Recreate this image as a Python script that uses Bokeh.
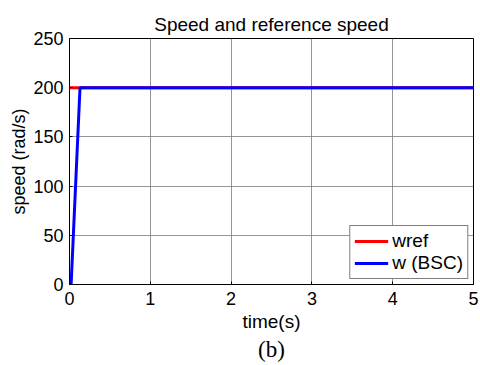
from bokeh.plotting import figure
from bokeh.models import Range1d, FixedTicker, Legend, LegendItem, Title
from bokeh.embed import file_html
from bokeh.resources import INLINE

# data
t_ref = [0, 5]
w_ref = [200, 200]
t_bsc = [0, 0.02, 0.13, 5]
w_bsc = [0, 0, 200, 200]
x_ticks = [0, 1, 2, 3, 4, 5]
y_ticks = [0, 50, 100, 150, 200, 250]

FONT = "Liberation Sans"

p = figure(width=480, height=365, output_backend="svg", toolbar_location=None,
           x_range=Range1d(0, 5), y_range=Range1d(0, 250),
           min_border_left=69, min_border_right=7, min_border_top=38, min_border_bottom=81)

p.title.text = "Speed and reference speed"
p.title.align = "center"
p.title.text_font = FONT
p.title.text_font_size = "19px"
p.title.text_font_style = "normal"
p.title.text_color = "black"
p.title.standoff = 8

r1 = p.line(t_ref, w_ref, line_color="#ff0000", line_width=3)
r2 = p.line(t_bsc, w_bsc, line_color="#0000ff", line_width=3)

for ax in (p.xaxis[0], p.yaxis[0]):
    ax.axis_line_color = "black"
    ax.axis_line_width = 1
    ax.major_tick_in = 3
    ax.major_tick_out = 0
    ax.minor_tick_line_color = None
    ax.major_tick_line_color = "black"
    ax.major_label_text_font = FONT
    ax.major_label_text_font_size = "18px"
    ax.major_label_text_color = "black"
    ax.axis_label_text_font = FONT
    ax.axis_label_text_font_style = "normal"
    ax.axis_label_text_color = "black"

p.xaxis[0].ticker = FixedTicker(ticks=x_ticks)
p.yaxis[0].ticker = FixedTicker(ticks=y_ticks)
p.xaxis[0].axis_label = "time(s)"
p.yaxis[0].axis_label = "speed (rad/s)"
p.xaxis[0].axis_label_text_font_size = "19px"
p.yaxis[0].axis_label_text_font_size = "18px"
p.xaxis[0].major_label_standoff = 7
p.yaxis[0].major_label_standoff = 6
p.xaxis[0].axis_label_standoff = 3
p.yaxis[0].axis_label_standoff = 1

p.xgrid.grid_line_color = "#7a7a7a"
p.ygrid.grid_line_color = "#7a7a7a"
p.xgrid.grid_line_width = 0.8
p.ygrid.grid_line_width = 0.8
p.xgrid.ticker = FixedTicker(ticks=x_ticks)
p.ygrid.ticker = FixedTicker(ticks=y_ticks)

p.outline_line_color = "black"
p.outline_line_width = 1
p.outline_line_alpha = 1

legend = Legend(items=[LegendItem(label="wref", renderers=[r1]),
                       LegendItem(label="w (BSC)", renderers=[r2])],
                location="bottom_right")
legend.margin = 5
legend.padding = 4
legend.spacing = 0
legend.glyph_width = 34
legend.glyph_height = 20
legend.label_standoff = 4
legend.label_text_font = FONT
legend.label_text_font_size = "19px"
legend.label_text_color = "black"
legend.label_height = 20
legend.border_line_color = "black"
legend.border_line_width = 1
legend.background_fill_alpha = 1
p.add_layout(legend)

sub = Title(text="(b)", align="center", text_font="Liberation Serif",
            text_font_size="23px", text_font_style="normal", text_color="black",
            standoff=0)
p.add_layout(sub, "below")

p.background_fill_color = "white"
p.border_fill_color = "white"

open("out.html", "w").write(file_html(p, INLINE))
